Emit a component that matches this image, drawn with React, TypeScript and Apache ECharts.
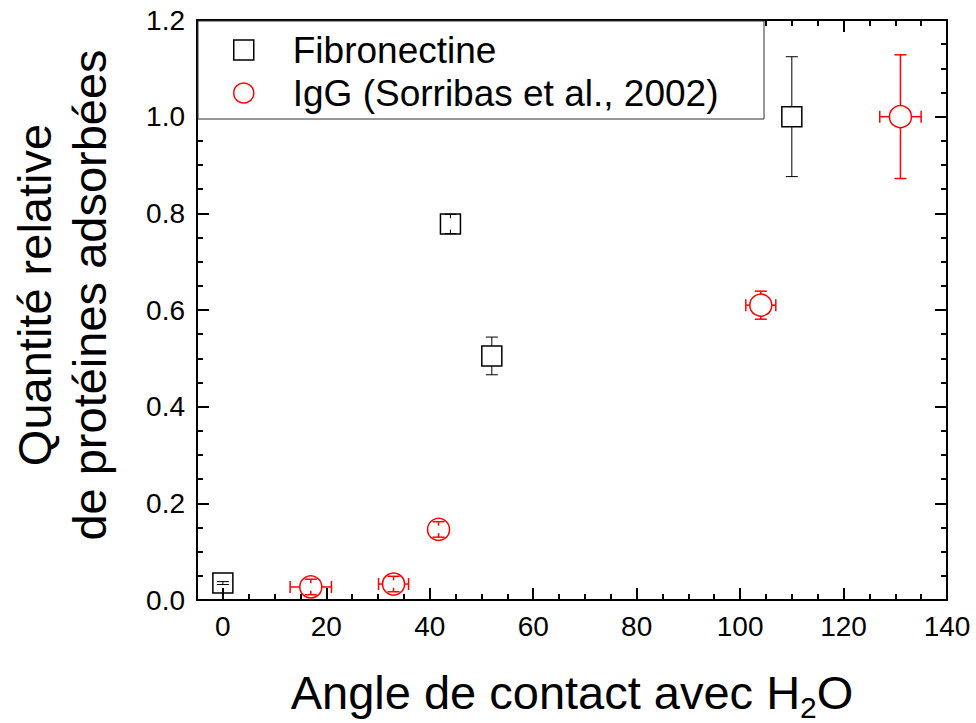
import React, { useEffect, useRef } from "react";
import * as echarts from "echarts";

// ---- data ----
const fibName = "Fibronectine";
const fibX = [0, 44, 52, 110];
const fibY = [0.035, 0.778, 0.505, 1.0];
const fibXErr = [0, 0, 0, 0];
const fibYErr = [0.003, 0.02, 0.039, 0.124];

const iggName = "IgG (Sorribas et al., 2002)";
const iggX = [17, 33, 41.7, 104, 131];
const iggY = [0.027, 0.033, 0.146, 0.61, 1.0];
const iggXErr = [4, 2.9, 0, 2.9, 4];
const iggYErr = [0.016, 0.016, 0.016, 0.029, 0.128];

const xMajorTicks = [0, 20, 40, 60, 80, 100, 120, 140];
const xMin = -5;
const xMax = 140;
const yMin = 0;
const yMax = 1.2;

const FONT = "'Liberation Sans', Arial, Helvetica, sans-serif";

function errRender(color: string, width: number, r: number) {
  return (params: any, api: any) => {
    const x = api.value(0);
    const y = api.value(1);
    const ex = api.value(2);
    const ey = api.value(3);
    const c = api.coord([x, y]);
    const style = { stroke: color, lineWidth: width, fill: null };
    const cap = 6;
    const children: any[] = [];
    if (ey > 0) {
      for (const s of [1, -1]) {
        const e = api.coord([x, y + s * ey]);
        const d = Math.abs(e[1] - c[1]);
        const dir = e[1] < c[1] ? -1 : 1;
        const start = d > r ? c[1] + dir * r : e[1] - dir * Math.min(4, d);
        children.push({ type: "line", shape: { x1: c[0], y1: start, x2: c[0], y2: e[1] }, style });
        children.push({ type: "line", shape: { x1: c[0] - cap, y1: e[1], x2: c[0] + cap, y2: e[1] }, style });
      }
    }
    if (ex > 0) {
      for (const s of [1, -1]) {
        const e = api.coord([x + s * ex, y]);
        const d = Math.abs(e[0] - c[0]);
        const dir = e[0] < c[0] ? -1 : 1;
        const start = d > r ? c[0] + dir * r : e[0] - dir * Math.min(4, d);
        children.push({ type: "line", shape: { x1: start, y1: c[1], x2: e[0], y2: c[1] }, style });
        children.push({ type: "line", shape: { x1: e[0], y1: c[1] - cap, x2: e[0], y2: c[1] + cap }, style });
      }
    }
    return { type: "group", children };
  };
}

export default function App() {
  const ref = useRef<HTMLDivElement>(null);
  useEffect(() => {
    if (!ref.current) return;
    const chart = echarts.init(ref.current, null, { renderer: "svg" });

    const fibPts = fibX.map((x, i) => [x, fibY[i]]);
    const iggPts = iggX.map((x, i) => [x, iggY[i]]);
    const fibErr = fibX.map((x, i) => [x, fibY[i], fibXErr[i], fibYErr[i]]);
    const iggErr = iggX.map((x, i) => [x, iggY[i], iggXErr[i], iggYErr[i]]);

    const axisLine = { show: true, onZero: false, lineStyle: { color: "#000", width: 2 } };
    const noLine = { show: false, onZero: false };
    const labelStyle = { color: "#000", fontSize: 28, fontFamily: FONT };

    const option: any = {
      animation: false,
      backgroundColor: "#fff",
      grid: { left: 197, right: 29, top: 20, bottom: 123, containLabel: false, outerBoundsMode: "none" },
      graphic: [
        {
          type: "rect",
          z: 50,
          shape: { x: 198, y: 21, width: 566, height: 98 },
          style: { fill: "#fff", stroke: "#333", lineWidth: 1 },
        },
      ],
      legend: {
        z: 60,
        orient: "vertical",
        left: 233,
        top: 30,
        padding: 0,
        itemWidth: 20,
        itemHeight: 20,
        itemGap: 3,
        selectedMode: false,
        textStyle: { fontSize: 37, lineHeight: 40, color: "#000", fontFamily: FONT, padding: [0, 0, 0, 34] },
        data: [
          { name: fibName, icon: "rect", itemStyle: { color: "#fff", borderColor: "#000", borderWidth: 1.5 } },
          { name: iggName, icon: "circle", itemStyle: { color: "#fff", borderColor: "#ff0000", borderWidth: 1.5 } },
        ],
      },
      xAxis: [
        {
          type: "value",
          position: "bottom",
          min: xMin,
          max: xMax,
          interval: 5,
          z: 10,
          axisLine,
          axisTick: { show: true, inside: true, length: 6, lineStyle: { color: "#000", width: 2 } },
          axisLabel: {
            ...labelStyle,
            margin: 12,
            formatter: (v: number) => (xMajorTicks.indexOf(v) >= 0 ? String(v) : ""),
          },
          splitLine: { show: false },
          name: "Angle de contact avec H{sub|2}O",
          nameLocation: "middle",
          nameGap: 62,
          nameTextStyle: {
            color: "#000",
            fontSize: 47,
            fontFamily: FONT,
            lineHeight: 60,
            rich: {
              sub: { fontSize: 30, fontFamily: FONT, color: "#000", verticalAlign: "bottom", lineHeight: 60 },
            },
          },
        },
        {
          type: "value",
          position: "bottom",
          min: xMin,
          max: xMax,
          z: 10,
          axisLine: noLine,
          axisTick: {
            show: true,
            inside: true,
            length: 12,
            customValues: xMajorTicks,
            lineStyle: { color: "#000", width: 2 },
          },
          axisLabel: { show: false },
          splitLine: { show: false },
        },
        {
          type: "value",
          position: "top",
          min: xMin,
          max: xMax,
          interval: 5,
          z: 10,
          axisLine,
          axisTick: { show: true, inside: true, length: 6, lineStyle: { color: "#000", width: 2 } },
          axisLabel: { show: false },
          splitLine: { show: false },
        },
        {
          type: "value",
          position: "top",
          min: xMin,
          max: xMax,
          z: 10,
          axisLine: noLine,
          axisTick: {
            show: true,
            inside: true,
            length: 12,
            customValues: xMajorTicks,
            lineStyle: { color: "#000", width: 2 },
          },
          axisLabel: { show: false },
          splitLine: { show: false },
        },
      ],
      yAxis: [
        {
          type: "value",
          position: "left",
          min: yMin,
          max: yMax,
          interval: 0.2,
          z: 10,
          axisLine,
          axisTick: { show: true, inside: true, length: 12, lineStyle: { color: "#000", width: 2 } },
          minorTick: { show: true, splitNumber: 4, length: 6, lineStyle: { color: "#000", width: 2 } },
          axisLabel: { ...labelStyle, margin: 12, formatter: (v: number) => v.toFixed(1) },
          splitLine: { show: false },
          minorSplitLine: { show: false },
          name: "Quantité relative\nde protéines adsorbées",
          nameLocation: "middle",
          nameGap: 80,
          nameTextStyle: {
            color: "#000",
            fontSize: 47,
            lineHeight: 55,
            fontFamily: FONT,
            padding: [0, 0, 0, 30],
          },
        },
        {
          type: "value",
          position: "right",
          min: yMin,
          max: yMax,
          interval: 0.2,
          z: 10,
          axisLine,
          axisTick: { show: true, inside: true, length: 12, lineStyle: { color: "#000", width: 2 } },
          minorTick: { show: true, splitNumber: 4, length: 6, lineStyle: { color: "#000", width: 2 } },
          axisLabel: { show: false },
          splitLine: { show: false },
          minorSplitLine: { show: false },
        },
      ],
      series: [
        {
          name: fibName,
          type: "scatter",
          xAxisIndex: 0,
          yAxisIndex: 0,
          symbol: "rect",
          symbolSize: 20,
          itemStyle: { color: "#fff", borderColor: "#000", borderWidth: 1.5, opacity: 1 },
          data: fibPts,
          z: 2,
        },
        {
          name: iggName,
          type: "scatter",
          xAxisIndex: 0,
          yAxisIndex: 0,
          symbol: "circle",
          symbolSize: 22,
          itemStyle: { color: "#fff", borderColor: "#ff0000", borderWidth: 1.5, opacity: 1 },
          data: iggPts,
          z: 2,
        },
        {
          name: "errFib",
          type: "custom",
          xAxisIndex: 0,
          yAxisIndex: 0,
          renderItem: errRender("#000", 1, 10),
          encode: { x: 0, y: 1 },
          data: fibErr,
          z: 3,
        },
        {
          name: "errIgG",
          type: "custom",
          xAxisIndex: 0,
          yAxisIndex: 0,
          renderItem: errRender("#ff0000", 1.5, 11),
          encode: { x: 0, y: 1 },
          data: iggErr,
          z: 3,
        },
      ],
    };
    chart.setOption(option);
    return () => chart.dispose();
  }, []);

  return (
    <div
      ref={ref}
      style={{ position: "fixed", left: 0, top: 0, width: 976, height: 723, background: "#fff" }}
    />
  );
}
